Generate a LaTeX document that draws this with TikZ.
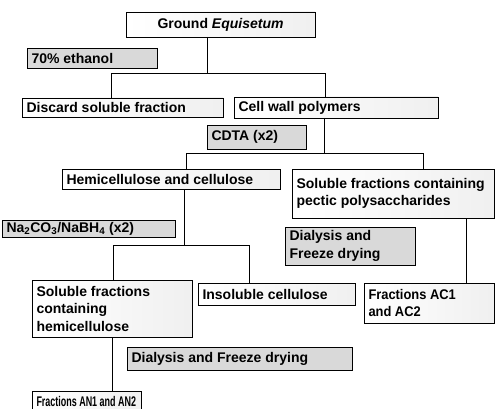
\documentclass[tikz,border=0pt]{standalone}
\usepackage{fontspec}
\usepackage{graphicx}
\setmainfont{Liberation Sans}
\newcommand\squeeze[2]{\scalebox{#1}[1]{#2}}
\tikzset{
  base/.style={draw=black, line width=0.9pt, inner sep=0pt, outer sep=0pt,
    font=\fontsize{14}{17.5}\selectfont\bfseries},
  mainbox/.style={base, left color=white, right color=gray!12},
  reagent/.style={base, fill=gray!30},
  link/.style={line width=0.9pt}
}
\newcommand\bx[7]{\node[#6,anchor=north west,minimum width={#4pt-#2pt},minimum height={#5pt-#3pt}] (#1) at (#2,#3) {\parbox{\dimexpr#4pt-#2pt-9pt\relax}{\raggedright #7}};}
\begin{document}
\begin{tikzpicture}[x=1pt,y=-1pt]
\useasboundingbox (0,0) rectangle (495,409);
% boxes
\node[mainbox,anchor=north west,minimum width=189pt,minimum height=25pt] (g) at (126,12) {Ground \textit{Equisetum}};
\bx{eth}{27}{48}{157}{68}{reagent}{70\% ethanol}
\bx{disc}{22}{98}{223}{117}{mainbox}{Discard soluble fraction}
\bx{cell}{234}{97}{438}{118}{mainbox}{Cell wall polymers}
\bx{cdta}{207}{125}{306}{149}{reagent}{CDTA (x2)}
\bx{hemi}{62}{169}{280}{189}{mainbox}{Hemicellulose and cellulose}
\bx{pect}{292}{169}{494}{218}{mainbox}{Soluble fractions containing pectic polysaccharides}
\bx{na}{2}{220}{175}{237}{reagent}{Na\textsubscript{2}CO\textsubscript{3}/NaBH\textsubscript{4} (x2)}
\bx{dialA}{285}{227}{415}{265}{reagent}{Dialysis and\\Freeze drying}
\bx{solh}{32}{280}{192}{337}{mainbox}{Soluble fractions\\containing\\hemicellulose}
\bx{insol}{198}{283}{355}{305}{mainbox}{Insoluble cellulose}
\bx{ac}{364}{283}{494}{323}{mainbox}{\squeeze{0.92}{Fractions AC1}\\\squeeze{0.92}{and AC2}}
\bx{dialB}{127}{347}{352}{370}{reagent}{Dialysis and Freeze drying}
\bx{an}{32}{391}{141}{411}{mainbox}{\squeeze{0.64}{Fractions AN1 and AN2}}
% junctions
\coordinate (s1) at (207,73);
\coordinate (s1l) at (111,73);
\coordinate (s1r) at (325,73);
\coordinate (s2) at (324,153);
\coordinate (s2l) at (186,153);
\coordinate (s2r) at (423,153);
\coordinate (s3) at (184,245);
\coordinate (s3l) at (113,245);
\coordinate (s3r) at (249,245);
\coordinate (s4) at (466,250);
\coordinate (s5) at (112,360);
% connectors
\draw[link] (g.south -| s1) -- (s1);
\draw[link] (disc.north -| s1l) -- (s1l) -- (s1r) -- (cell.north -| s1r);
\draw[link] (cell.south -| s2) -- (s2);
\draw[link] (hemi.north -| s2l) -- (s2l) -- (s2r) -- (pect.north -| s2r);
\draw[link] (hemi.south -| s3) -- (s3);
\draw[link] (solh.north -| s3l) -- (s3l) -- (s3r) -- (insol.north -| s3r);
\draw[link] (pect.south -| s4) -- (ac.north -| s4);
\draw[link] (solh.south -| s5) -- (an.north -| s5);
\end{tikzpicture}
\end{document}
